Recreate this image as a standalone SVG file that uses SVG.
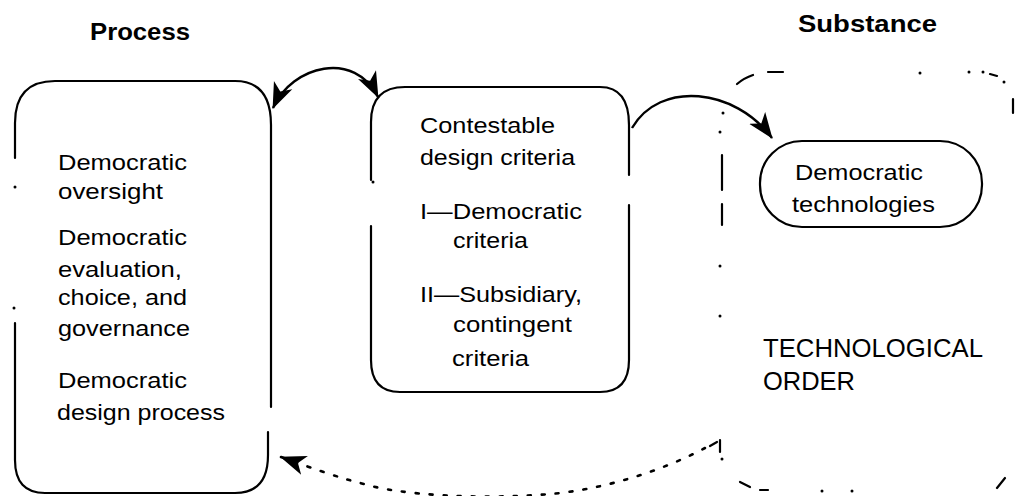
<svg xmlns="http://www.w3.org/2000/svg" width="1015" height="496" viewBox="0 0 1015 496">
<style>
.box{fill:none;stroke:#000;stroke-width:2.2;stroke-linecap:round}
.mark{fill:none;stroke:#000;stroke-width:2.2;stroke-linecap:round}
.dot{fill:#000}
.t{font-family:"Liberation Sans",Arial,sans-serif;font-size:22px;fill:#000}
.tr{font-family:"Liberation Sans",Arial,sans-serif;font-size:25px;fill:#000}
.h{font-family:"Liberation Sans",Arial,sans-serif;font-size:23px;font-weight:bold;fill:#000}
.conn{fill:none;stroke:#000;stroke-width:2.4}
.fb{fill:none;stroke:#000;stroke-width:2.6;stroke-dasharray:3 11;stroke-linecap:round}
</style>
<defs>
<marker id="ah" markerUnits="userSpaceOnUse" viewBox="0 0 26 22" markerWidth="26" markerHeight="22" refX="25" refY="11" orient="auto-start-reverse">
<path d="M0,1 L26,11 L0,21 L7,11 Z" fill="#000"/>
</marker>
</defs>
<rect width="1015" height="496" fill="#fff"/>

<g id="titles">
<text class="h" x="90" y="40" textLength="100" lengthAdjust="spacingAndGlyphs">Process</text>
<text class="h" x="798" y="32" textLength="139" lengthAdjust="spacingAndGlyphs">Substance</text>
</g>

<g id="process-box">
<path class="box" d="M15,158 L15,123 Q15,81 55,81 L235,81 Q271,81 271,125 L271,407"/>
<path class="box" d="M268,432 L268,455 Q268,493 235,493 L45,493 Q15,493 15,460 L15,323"/>
<circle class="dot" cx="15" cy="187" r="1.5"/>
<circle class="dot" cx="14" cy="308" r="1.5"/>
<text class="t" x="58" y="170" textLength="129" lengthAdjust="spacingAndGlyphs">Democratic</text>
<text class="t" x="58" y="199" textLength="105" lengthAdjust="spacingAndGlyphs">oversight</text>
<text class="t" x="58" y="245" textLength="129" lengthAdjust="spacingAndGlyphs">Democratic</text>
<text class="t" x="58" y="277" textLength="124" lengthAdjust="spacingAndGlyphs">evaluation,</text>
<text class="t" x="58" y="305" textLength="129" lengthAdjust="spacingAndGlyphs">choice, and</text>
<text class="t" x="58" y="336" textLength="132" lengthAdjust="spacingAndGlyphs">governance</text>
<text class="t" x="58" y="388" textLength="129" lengthAdjust="spacingAndGlyphs">Democratic</text>
<text class="t" x="57" y="420" textLength="168" lengthAdjust="spacingAndGlyphs">design process</text>
</g>

<g id="criteria-box">
<path class="box" d="M371,180 L371,122 Q371,87 405,87 L600,87 Q629,87 629,125 L629,175"/>
<path class="box" d="M629,205 L629,360 Q629,392 600,392 L400,392 Q371,392 371,360 L371,226"/>
<circle class="dot" cx="373" cy="182" r="1.5"/>
<text class="t" x="420" y="133" textLength="135" lengthAdjust="spacingAndGlyphs">Contestable</text>
<text class="t" x="420" y="165" textLength="155" lengthAdjust="spacingAndGlyphs">design criteria</text>
<text class="t" x="420" y="219" textLength="162" lengthAdjust="spacingAndGlyphs">I—Democratic</text>
<text class="t" x="453" y="248" textLength="75" lengthAdjust="spacingAndGlyphs">criteria</text>
<text class="t" x="420" y="302" textLength="162" lengthAdjust="spacingAndGlyphs">II—Subsidiary,</text>
<text class="t" x="453" y="332" textLength="119" lengthAdjust="spacingAndGlyphs">contingent</text>
<text class="t" x="452" y="366" textLength="77" lengthAdjust="spacingAndGlyphs">criteria</text>
</g>

<g id="technological-order">
<path class="mark" d="M737,84 Q744,78 753,75 M768,72 L783,72 M990,74 L997,76 M722,155 L722,190 M722,204 L722,225 M740,482 L750,487 M760,490 L768,490 M997,488 L1005,478 M1013,99 L1013,113"/>
<circle class="dot" cx="920" cy="73" r="1.5"/>
<circle class="dot" cx="969" cy="72" r="1.5"/>
<circle class="dot" cx="983" cy="72" r="1.5"/>
<circle class="dot" cx="1004" cy="82" r="1.5"/>
<circle class="dot" cx="723" cy="113" r="1.5"/>
<circle class="dot" cx="720" cy="132" r="1.5"/>
<circle class="dot" cx="720" cy="266" r="1.5"/>
<circle class="dot" cx="720" cy="316" r="1.5"/>
<circle class="dot" cx="822" cy="491" r="1.5"/>
<circle class="dot" cx="852" cy="491" r="1.5"/>
<text class="tr" x="763" y="357" textLength="220" lengthAdjust="spacingAndGlyphs">TECHNOLOGICAL</text>
<text class="tr" x="763" y="390" textLength="92" lengthAdjust="spacingAndGlyphs">ORDER</text>
</g>

<g id="democratic-technologies">
<rect class="box" x="760" y="141" width="222" height="86" rx="42" ry="42"/>
<text class="t" x="795" y="180" font-size="24" textLength="128" lengthAdjust="spacingAndGlyphs">Democratic</text>
<text class="t" x="792" y="212" font-size="24" textLength="143" lengthAdjust="spacingAndGlyphs">technologies</text>
</g>

<g id="connectors">
<path class="conn" d="M273,108 C292,65 355,50 378,97" marker-start="url(#ah)" marker-end="url(#ah)"/>
<path class="conn" d="M632,128 C660,80 735,88 772,138" marker-end="url(#ah)"/>
<path class="mark" d="M720,440 L720,452 M717,442 L710,446"/>
<circle class="dot" cx="722" cy="459" r="1.5"/>
<path class="fb" d="M705,448 C660,472 600,490 550,494 C480,500 400,495 364,484 C340,478 320,471 281,457" marker-end="url(#ah)"/>
</g>
</svg>
